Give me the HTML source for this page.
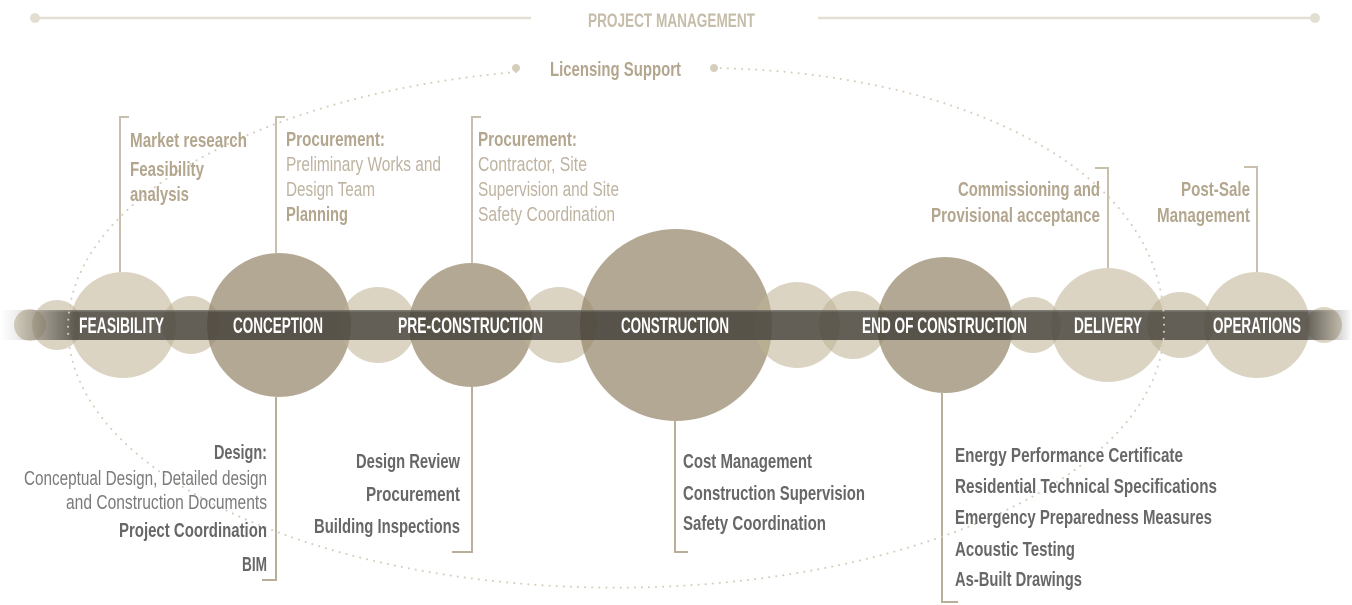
<!DOCTYPE html>
<html>
<head>
<meta charset="utf-8">
<style>
  html,body{margin:0;padding:0;background:#fff;}
  svg{display:block;}
  text{font-family:"Liberation Sans",sans-serif;}
  .tb{font-weight:700;fill:#b3a68e;font-size:20px;}
  .tl{font-weight:400;fill:#bdb3a0;font-size:20px;}
  .bb{font-weight:700;fill:#676767;font-size:20px;}
  .bl{font-weight:400;fill:#7a7a7a;font-size:20px;}
  .band{font-weight:700;fill:#ffffff;font-size:22px;}
</style>
</head>
<body>
<svg width="1352" height="605" viewBox="0 0 1352 605" xmlns="http://www.w3.org/2000/svg">
  <defs>
    <linearGradient id="bandg" x1="0" y1="0" x2="1352" y2="0" gradientUnits="userSpaceOnUse">
      <stop offset="0" stop-color="#37342f" stop-opacity="0"/>
      <stop offset="0.012" stop-color="#37342f" stop-opacity="0.08"/>
      <stop offset="0.056" stop-color="#37342f" stop-opacity="0.73"/>
      <stop offset="0.966" stop-color="#37342f" stop-opacity="0.73"/>
      <stop offset="1" stop-color="#37342f" stop-opacity="0"/>
    </linearGradient>
    <linearGradient id="edgeg" x1="0" y1="0" x2="1352" y2="0" gradientUnits="userSpaceOnUse">
      <stop offset="0" stop-color="#ffffff" stop-opacity="0"/>
      <stop offset="0.056" stop-color="#ffffff" stop-opacity="0.18"/>
      <stop offset="0.966" stop-color="#ffffff" stop-opacity="0.18"/>
      <stop offset="1" stop-color="#ffffff" stop-opacity="0"/>
    </linearGradient>
  </defs>

  <!-- Project management top line -->
  <line x1="35" y1="18" x2="531" y2="18" stroke="#e4dfd4" stroke-width="2.5"/>
  <line x1="818" y1="18" x2="1315" y2="18" stroke="#e4dfd4" stroke-width="2.5"/>
  <circle cx="35" cy="18" r="5" fill="#e3ded2"/>
  <circle cx="1315" cy="18" r="5" fill="#e3ded2"/>
  <text x="588" y="27" font-size="19" font-weight="700" fill="#c6bcaa" textLength="167" lengthAdjust="spacingAndGlyphs">PROJECT MANAGEMENT</text>

  <!-- Brackets top -->
  <g fill="none" stroke="#c9bfad" stroke-width="2">
    <path d="M129,117 H120 V272"/>
    <path d="M285,117 H276 V253"/>
    <path d="M481,117 H472 V263"/>
    <path d="M1095,168 H1108 V268"/>
    <path d="M1244,167 H1257 V272"/>
  </g>
  <!-- Brackets bottom -->
  <g fill="none" stroke="#b9ae9a" stroke-width="2">
    <path d="M276,397 V580 H262"/>
    <path d="M472,387 V552 H452"/>
    <path d="M675,421 V552 H688"/>
    <path d="M942,393 V602 H958"/>
  </g>

  <!-- Circles -->
  <g>
    <circle cx="30" cy="325" r="16" fill="#beb091" fill-opacity="0.55"/>
    <circle cx="57" cy="325" r="25" fill="#beb091" fill-opacity="0.55"/>
    <circle cx="123" cy="325" r="53" fill="#beb091" fill-opacity="0.55"/>
    <circle cx="191" cy="325" r="29" fill="#beb091" fill-opacity="0.55"/>
    <circle cx="279" cy="325" r="72" fill="#968769" fill-opacity="0.72"/>
    <circle cx="378" cy="325" r="38" fill="#beb091" fill-opacity="0.55"/>
    <circle cx="471" cy="325" r="62" fill="#968769" fill-opacity="0.72"/>
    <circle cx="559" cy="325" r="38" fill="#beb091" fill-opacity="0.55"/>
    <circle cx="676" cy="325" r="96" fill="#968769" fill-opacity="0.72"/>
    <circle cx="797" cy="325" r="43" fill="#beb091" fill-opacity="0.55"/>
    <circle cx="853" cy="325" r="34" fill="#beb091" fill-opacity="0.55"/>
    <circle cx="945" cy="325" r="68" fill="#968769" fill-opacity="0.72"/>
    <circle cx="1033" cy="325" r="28" fill="#beb091" fill-opacity="0.55"/>
    <circle cx="1108" cy="325" r="57" fill="#beb091" fill-opacity="0.55"/>
    <circle cx="1180" cy="325" r="33" fill="#beb091" fill-opacity="0.55"/>
    <circle cx="1257" cy="325" r="53" fill="#beb091" fill-opacity="0.55"/>
    <circle cx="1324" cy="325" r="18" fill="#beb091" fill-opacity="0.55"/>
  </g>

  <!-- Band -->
  <rect x="0" y="310" width="1352" height="30" fill="url(#bandg)"/>
  <rect x="0" y="310" width="1352" height="1.5" fill="url(#edgeg)"/>

  <!-- Band labels -->
  <text class="band" x="79" y="333" textLength="85" lengthAdjust="spacingAndGlyphs">FEASIBILITY</text>
  <text class="band" x="233" y="333" textLength="90" lengthAdjust="spacingAndGlyphs">CONCEPTION</text>
  <text class="band" x="398" y="333" textLength="145" lengthAdjust="spacingAndGlyphs">PRE-CONSTRUCTION</text>
  <text class="band" x="621" y="333" textLength="108" lengthAdjust="spacingAndGlyphs">CONSTRUCTION</text>
  <text class="band" x="862" y="333" textLength="165" lengthAdjust="spacingAndGlyphs">END OF CONSTRUCTION</text>
  <text class="band" x="1074" y="333" textLength="68" lengthAdjust="spacingAndGlyphs">DELIVERY</text>
  <text class="band" x="1213" y="333" textLength="88" lengthAdjust="spacingAndGlyphs">OPERATIONS</text>

  <!-- Dotted licensing loop -->
  <path d="M516,72 A548,260 0 1 0 1164,328 C1166,170 960,72 714,68" fill="none" stroke="#d6cdbb" stroke-width="2" stroke-linecap="round" stroke-dasharray="0.1 7"/>
  <circle cx="516" cy="68" r="4" fill="#d6cdbb"/>
  <circle cx="714" cy="68" r="4" fill="#d6cdbb"/>
  <text class="tb" x="550" y="76" textLength="131" lengthAdjust="spacingAndGlyphs">Licensing Support</text>

  <!-- Top texts -->
  <text class="tb" x="130" y="147" textLength="117" lengthAdjust="spacingAndGlyphs">Market research</text>
  <text class="tb" x="130" y="176" textLength="74" lengthAdjust="spacingAndGlyphs">Feasibility</text>
  <text class="tb" x="130" y="201" textLength="59" lengthAdjust="spacingAndGlyphs">analysis</text>

  <text class="tb" x="286" y="146" textLength="99" lengthAdjust="spacingAndGlyphs">Procurement:</text>
  <text class="tl" x="286" y="171" textLength="155" lengthAdjust="spacingAndGlyphs">Preliminary Works and</text>
  <text class="tl" x="286" y="196" textLength="89" lengthAdjust="spacingAndGlyphs">Design Team</text>
  <text class="tb" x="286" y="221" textLength="62" lengthAdjust="spacingAndGlyphs">Planning</text>

  <text class="tb" x="478" y="146" textLength="99" lengthAdjust="spacingAndGlyphs">Procurement:</text>
  <text class="tl" x="478" y="171" textLength="109" lengthAdjust="spacingAndGlyphs">Contractor, Site</text>
  <text class="tl" x="478" y="196" textLength="141" lengthAdjust="spacingAndGlyphs">Supervision and Site</text>
  <text class="tl" x="478" y="221" textLength="137" lengthAdjust="spacingAndGlyphs">Safety Coordination</text>

  <text class="tb" x="958" y="196" textLength="142" lengthAdjust="spacingAndGlyphs">Commissioning and</text>
  <text class="tb" x="931" y="222" textLength="169" lengthAdjust="spacingAndGlyphs">Provisional acceptance</text>

  <text class="tb" x="1181" y="196" textLength="69" lengthAdjust="spacingAndGlyphs">Post-Sale</text>
  <text class="tb" x="1157" y="222" textLength="93" lengthAdjust="spacingAndGlyphs">Management</text>

  <!-- Bottom texts -->
  <text class="bb" x="214" y="459" textLength="53" lengthAdjust="spacingAndGlyphs">Design:</text>
  <text class="bl" x="24" y="485" textLength="243" lengthAdjust="spacingAndGlyphs">Conceptual Design, Detailed design</text>
  <text class="bl" x="66" y="509" textLength="201" lengthAdjust="spacingAndGlyphs">and Construction Documents</text>
  <text class="bb" x="119" y="537" textLength="148" lengthAdjust="spacingAndGlyphs">Project Coordination</text>
  <text class="bb" x="242" y="571" textLength="25" lengthAdjust="spacingAndGlyphs">BIM</text>

  <text class="bb" x="356" y="468" textLength="104" lengthAdjust="spacingAndGlyphs">Design Review</text>
  <text class="bb" x="366" y="501" textLength="94" lengthAdjust="spacingAndGlyphs">Procurement</text>
  <text class="bb" x="314" y="533" textLength="146" lengthAdjust="spacingAndGlyphs">Building Inspections</text>

  <text class="bb" x="683" y="468" textLength="129" lengthAdjust="spacingAndGlyphs">Cost Management</text>
  <text class="bb" x="683" y="500" textLength="182" lengthAdjust="spacingAndGlyphs">Construction Supervision</text>
  <text class="bb" x="683" y="530" textLength="143" lengthAdjust="spacingAndGlyphs">Safety Coordination</text>

  <text class="bb" x="955" y="462" textLength="228" lengthAdjust="spacingAndGlyphs">Energy Performance Certificate</text>
  <text class="bb" x="955" y="493" textLength="262" lengthAdjust="spacingAndGlyphs">Residential Technical Specifications</text>
  <text class="bb" x="955" y="524" textLength="257" lengthAdjust="spacingAndGlyphs">Emergency Preparedness Measures</text>
  <text class="bb" x="955" y="556" textLength="120" lengthAdjust="spacingAndGlyphs">Acoustic Testing</text>
  <text class="bb" x="955" y="586" textLength="127" lengthAdjust="spacingAndGlyphs">As-Built Drawings</text>
</svg>
</body>
</html>
